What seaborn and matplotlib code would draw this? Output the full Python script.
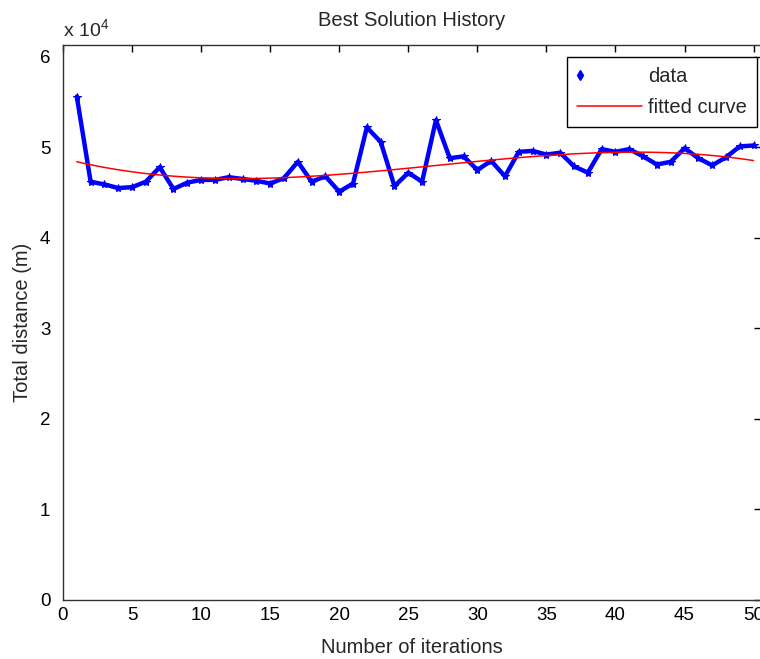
import numpy as np
import pandas as pd
import matplotlib
matplotlib.use("Agg")
import matplotlib.pyplot as plt
from matplotlib.lines import Line2D
from matplotlib.legend_handler import HandlerLine2D
import seaborn as sns

# ---- data (values in metres) ----
iterations = list(range(1, 51))
distance = [55600, 46200, 45900, 45500, 45600, 46200, 47800, 45400, 46100, 46400,
            46400, 46700, 46500, 46300, 46000, 46600, 48400, 46200, 46800, 45100,
            46000, 52200, 50600, 45700, 47200, 46200, 53000, 48800, 49000, 47500,
            48500, 46800, 49500, 49600, 49200, 49400, 47900, 47200, 49800, 49500,
            49800, 49000, 48100, 48400, 49900, 48800, 48000, 48900, 50100, 50200]
yticks = [0, 1, 2, 3, 4, 5, 6]
xticks = [0, 5, 10, 15, 20, 25, 30, 35, 40, 45, 50]

df = pd.DataFrame({"iter": iterations, "dist": distance})

sns.set_theme(style="white")
plt.rcParams["font.family"] = ["Liberation Sans", "DejaVu Sans"]
plt.rcParams["mathtext.fontset"] = "custom"
plt.rcParams["mathtext.rm"] = "Liberation Sans"
plt.rcParams["mathtext.default"] = "rm"


class LeftMarkerHandler(HandlerLine2D):
    def get_xdata(self, legend, xdescent, ydescent, width, height, fontsize):
        xdata = np.array([-xdescent, -xdescent + 0.1 * width])
        return xdata, xdata


fig = plt.figure(figsize=(7.6, 6.59), dpi=100)
ax = fig.add_axes([63 / 760, 1 - 600 / 659, (760.5 - 63) / 760, (600 - 45) / 659])

sns.lineplot(data=df, x="iter", y="dist", ax=ax, color=(0, 0, 1), lw=3.2,
             marker="*", markersize=6, markeredgecolor=(0, 0, 1), legend=False)
sns.regplot(data=df, x="iter", y="dist", ax=ax, order=3, ci=None, scatter=False,
            truncate=True, line_kws={"color": "red", "lw": 1.1})

ax.set_xlim(0, 50.5)
ax.set_ylim(0, 61300)
ax.set_xticks(xticks)
ax.set_xticklabels([str(v) for v in xticks])
ax.set_yticks([v * 1e4 for v in yticks])
ax.set_yticklabels([str(v) for v in yticks])
ax.tick_params(direction="in", top=True, right=True, length=5, width=1,
               labelsize=13.5, color="black", labelcolor="black")
ax.tick_params(axis="y", pad=9)
ax.tick_params(axis="x", pad=5)
for s in ax.spines.values():
    s.set_color("#333333")
    s.set_linewidth(1)

ax.set_xlabel("Number of iterations", fontsize=14.5, labelpad=10)
ax.set_ylabel("Total distance (m)", fontsize=14.5, labelpad=6)
ax.set_title("Best Solution History", fontsize=14.5, pad=14)
fig.text(63 / 760, 1 - 29 / 659, r"x $10^{4}$", fontsize=14, va="center", ha="left")

h_data = Line2D([], [], color=(0, 0, 1), marker="d", linestyle="none", markersize=5)
h_fit = Line2D([], [], color="red", lw=1.1)
leg = ax.legend([h_data, h_fit], ["data", "fitted curve"], loc="upper right",
                bbox_to_anchor=(0.995, 0.978), borderaxespad=0, fontsize=14.5,
                handlelength=3.25, handletextpad=0.3,
                labelspacing=0.6, borderpad=0.5, fancybox=False, framealpha=1,
                edgecolor="black", frameon=True,
                handler_map={h_data: LeftMarkerHandler(numpoints=1)})
leg.get_frame().set_linewidth(1)

fig.savefig("out.png", dpi=100)
